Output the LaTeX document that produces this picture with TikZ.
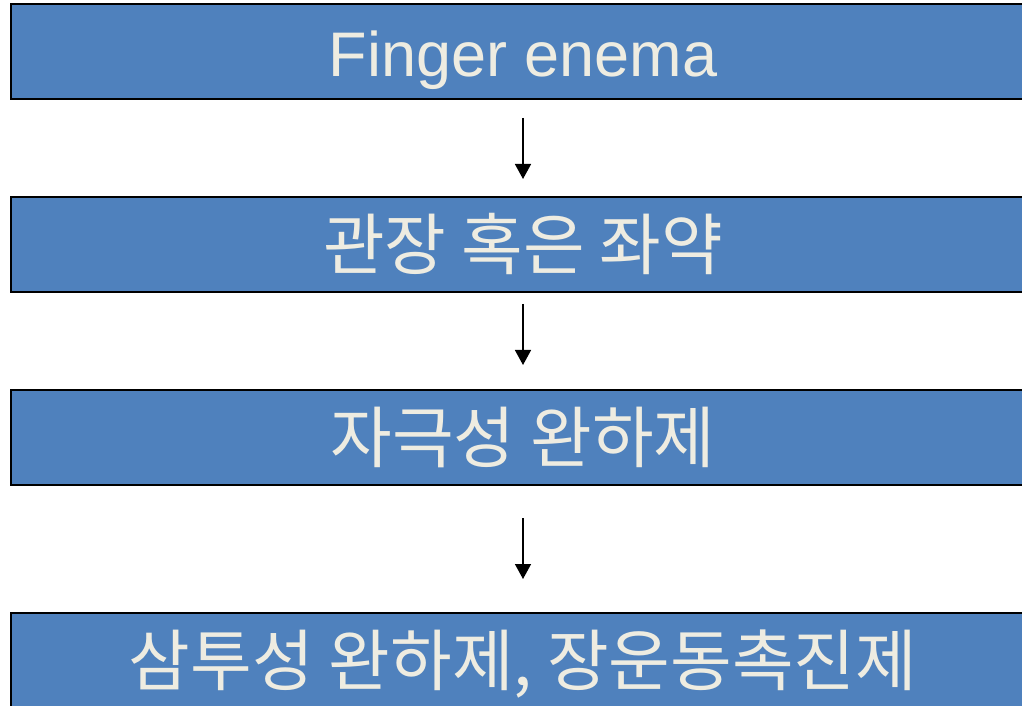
\documentclass[tikz,border=0pt]{standalone}
\usepackage{fontspec}
\setmainfont{Liberation Sans}
\newfontfamily\krfont{Noto Sans CJK KR}
\usetikzlibrary{arrows.meta}
\definecolor{boxblue}{RGB}{79,129,189}
\definecolor{boxtext}{RGB}{238,236,225}
\tikzset{
  stepbox/.style={draw=black, line width=2pt, fill=boxblue, text=boxtext,
    minimum width=1025pt, minimum height=95pt, inner sep=0pt,
    text height=55pt, text depth=5pt},
  flow/.style={-{Triangle[length=15pt,width=16pt]}, line width=1.5pt}
}
\newcommand{\bigtxt}{\fontsize{63}{70}\selectfont}
\newcommand{\krtxt}{\krfont\fontsize{67}{70}\selectfont}

\begin{document}
\begin{tikzpicture}[x=1pt,y=1pt]
   \useasboundingbox (0,0) rectangle (1022,705);
   \clip (0,0) rectangle (1022,705);

   % the four steps
   \node[stepbox] (finger) at (523,653) {\bigtxt Finger enema};
   \node[stepbox] (enema)  at (523,460) {\krtxt 관장 혹은 좌약};
   \node[stepbox] (stim)   at (523,268) {\krtxt 자극성 완하제};
   \node[stepbox] (osmo)   at (523,44.5) {\krtxt 삼투성 완하제, 장운동촉진제};

   % arrows in the gaps
   \draw[flow, shorten <=17.5pt, shorten >=17.5pt] (finger) -- (enema);
   \draw[flow, shorten <=10.5pt, shorten >=23.5pt] (enema) -- (stim);
   \draw[flow, shorten <=32.5pt, shorten >=33pt] (stim) -- (osmo);

\end{tikzpicture}
\end{document}
